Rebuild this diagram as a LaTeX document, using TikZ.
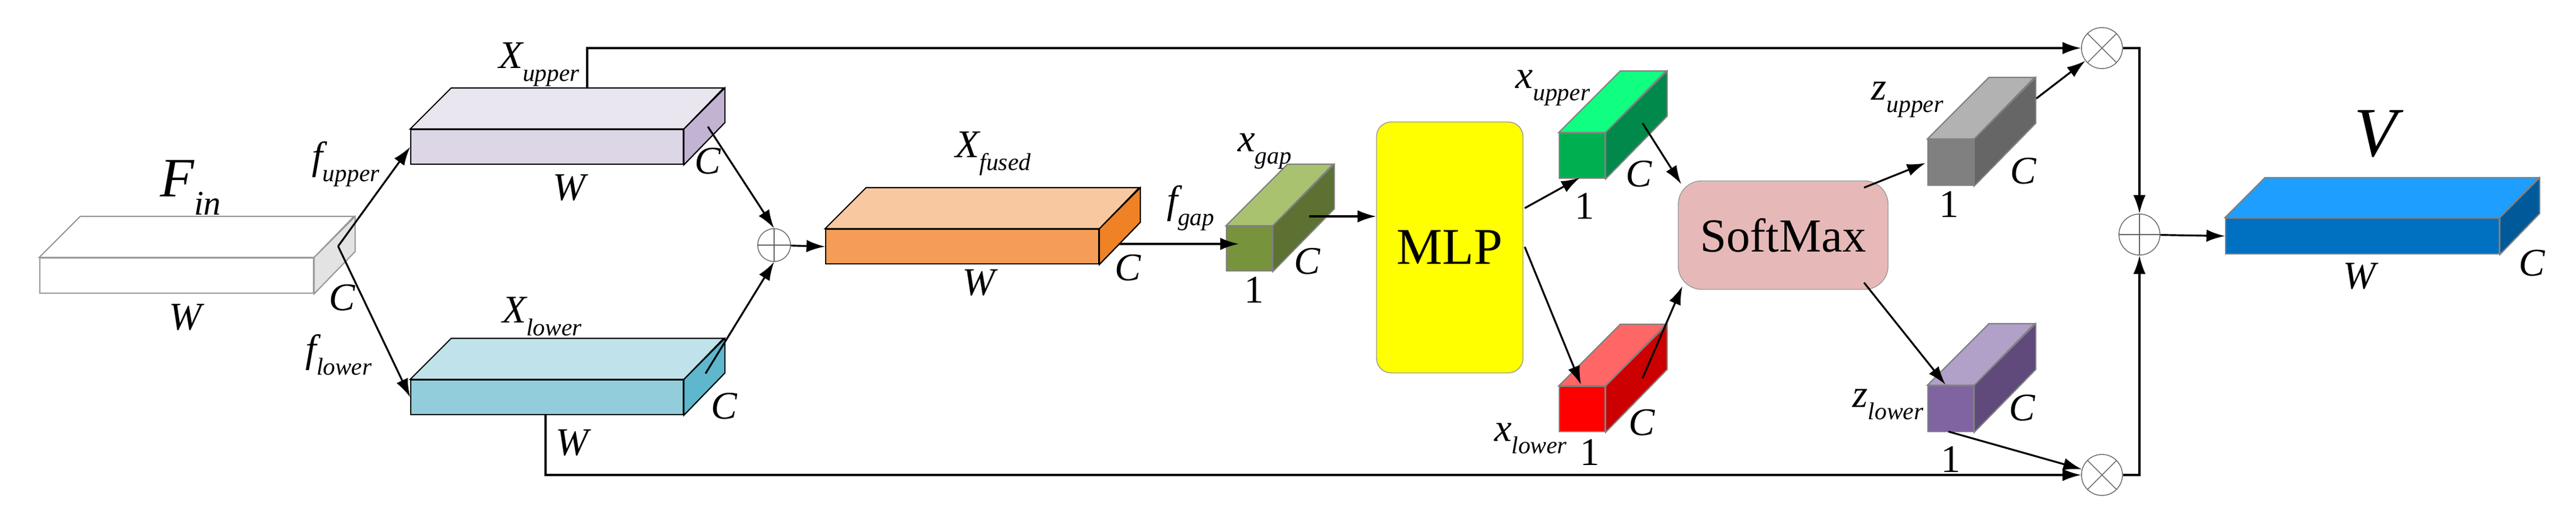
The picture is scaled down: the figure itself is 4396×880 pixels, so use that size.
\documentclass[tikz,border=0pt]{standalone}
\usepackage{fontspec}
\setmainfont{Liberation Serif}
\usetikzlibrary{arrows.meta}

\definecolor{finF}{HTML}{FFFFFF}\definecolor{finT}{HTML}{FFFFFF}\definecolor{finS}{HTML}{E3E3E3}
\definecolor{xupF}{HTML}{DCD6E6}\definecolor{xupT}{HTML}{EAE6EF}\definecolor{xupS}{HTML}{C3B3D3}
\definecolor{xloF}{HTML}{92CDDC}\definecolor{xloT}{HTML}{C0E2EA}\definecolor{xloS}{HTML}{5EB7CC}
\definecolor{xfuF}{HTML}{F59D56}\definecolor{xfuT}{HTML}{F8C8A0}\definecolor{xfuS}{HTML}{F08226}
\definecolor{gapF}{HTML}{77933C}\definecolor{gapT}{HTML}{A9C26F}\definecolor{gapS}{HTML}{5C7132}
\definecolor{vupF}{HTML}{00B050}\definecolor{vupT}{HTML}{11FF80}\definecolor{vupS}{HTML}{00894A}
\definecolor{vloF}{HTML}{FF0000}\definecolor{vloT}{HTML}{FF6666}\definecolor{vloS}{HTML}{CC0000}
\definecolor{zupF}{HTML}{808080}\definecolor{zupT}{HTML}{B2B2B2}\definecolor{zupS}{HTML}{666666}
\definecolor{zloF}{HTML}{8064A2}\definecolor{zloT}{HTML}{B1A0C7}\definecolor{zloS}{HTML}{604A7B}
\definecolor{outF}{HTML}{0070C0}\definecolor{outT}{HTML}{1E9FFF}\definecolor{outS}{HTML}{005A9A}
\definecolor{mlpc}{HTML}{FFFF00}\definecolor{smc}{HTML}{E6B9B8}

% name, x, y (front top left), w, h, depth, colour prefix, line colour
\newcommand\block[8]{%
  \node[draw=#8, fill=#7F, anchor=north west, inner sep=0, line width=.6pt,
        minimum width=#4*0.01cm, minimum height=#5*0.01cm] (#1) at (#2,#3) {};
  \filldraw[draw=#8, fill=#7T, line width=.6pt] (#1.north west) -- ++(#6,-#6) -- ++(#4,0) -- (#1.north east) -- cycle;
  \filldraw[draw=#8, fill=#7S, line width=.6pt] (#1.north east) -- ++(#6,-#6) -- ++(0,#5) -- (#1.south east) -- cycle;}
\newcommand\sym[2]{\textit{#1}\raisebox{-.32em}{\scalebox{.62}{\textit{#2}}}}

\begin{document}
\begin{tikzpicture}[x=0.01cm, y=-0.01cm,
  arr/.style={-{Latex[length=9pt,width=6pt]}, line width=.9pt},
  txt/.style={font=\fontsize{19}{19}\selectfont\itshape, inner sep=0},
  num/.style={font=\fontsize{19}{19}\selectfont, inner sep=0},
  sum/.style={circle, draw=black!60, minimum size=#1*0.01cm, inner sep=0,
    path picture={\draw[black!60] (path picture bounding box.west) -- (path picture bounding box.east)
      (path picture bounding box.north) -- (path picture bounding box.south);}},
  prod/.style={circle, draw=black!60, minimum size=70*0.01cm, inner sep=0, fill=white,
    path picture={\draw[black!60] (path picture bounding box.north west) -- (path picture bounding box.south east)
      (path picture bounding box.north east) -- (path picture bounding box.south west);}}]
\useasboundingbox (0,0) rectangle (4396,880);

% feature blocks
\block{fin}{67}{439}{467}{60}{70}{fin}{black!40}
\block{xup}{700}{220}{465}{59}{70}{xup}{black}
\block{xlo}{700}{647}{465}{59}{70}{xlo}{black}
\block{xfu}{1408}{390}{466}{59}{70}{xfu}{black}
\block{gap}{2092}{385}{78}{76}{105}{gap}{black!50}
\block{vup}{2660}{226}{78}{77}{105}{vup}{black!50}
\block{vlo}{2660}{658}{78}{77}{105}{vlo}{black!50}
\block{zup}{3289}{237}{78}{78}{105}{zup}{black!50}
\block{zlo}{3289}{657}{78}{78}{105}{zlo}{black!50}
\block{out}{3797}{371}{467}{61}{68}{out}{black!50}

\node[draw=black!40, fill=mlpc, rounded corners=25*0.01cm, minimum width=250*0.01cm,
  minimum height=428*0.01cm, font=\fontsize{25}{25}\selectfont] (mlp) at (2474,422) {MLP};
\node[draw=black!40, fill=smc, rounded corners=40*0.01cm, minimum width=358*0.01cm,
  minimum height=185*0.01cm, font=\fontsize{23}{23}\selectfont] (sm) at (3043,401) {SoftMax};

\node[sum=56] (add1) at (1321,418) {};
\node[sum=70] (add2) at (3651,400) {};
\node[prod] (mul1) at (3587,82) {};
\node[prod] (mul2) at (3587,810) {};

% labels
\node[txt, font=\fontsize{27}{27}\selectfont\itshape] at (325,320) {\sym{F}{in}};
\node[txt] at (316,541) {W};
\node[txt] at (584,508) {C};
\node[txt] at (590,280) {\sym{f}{upper}};
\node[txt] at (578,605) {\sym{f}{lower}};
\node[txt] at (920,110) {\sym{X}{upper}};
\node[txt] at (971,320) {W};
\node[txt] at (1208,275) {C};
\node[txt] at (925,540) {\sym{X}{lower}};
\node[txt] at (976,755) {W};
\node[txt] at (1236,693) {C};
\node[txt] at (1695,262) {\sym{X}{fused}};
\node[txt] at (1670,482) {W};
\node[txt] at (1925,457) {C};
\node[txt] at (2032,355) {\sym{f}{gap}};
\node[txt] at (2158,258) {\sym{x}{gap}};
\node[txt] at (2231,446) {C};
\node[num] at (2140,494) {1};
\node[txt] at (2650,150) {\sym{x}{upper}};
\node[txt] at (2797,297) {C};
\node[num] at (2704,351) {1};
\node[txt] at (2612,748) {\sym{x}{lower}};
\node[txt] at (2802,721) {C};
\node[num] at (2713,771) {1};
\node[txt] at (3255,170) {\sym{z}{upper}};
\node[txt] at (3453,292) {C};
\node[num] at (3326,348) {1};
\node[txt] at (3222,690) {\sym{z}{lower}};
\node[txt] at (3451,696) {C};
\node[num] at (3329,783) {1};
\node[txt, font=\fontsize{34}{34}\selectfont\itshape] at (4054,228) {V};
\node[txt] at (4026,471) {W};
\node[txt] at (4321,449) {C};

% connection points
\coordinate (split) at (577,420);
\coordinate (xup-o) at (1208,216);
\coordinate (xlo-o) at (1204,637);
\coordinate (xup-tap) at (1002,150);
\coordinate (xlo-tap) at (931,706);
\coordinate (xfu-o) at (1910,416);
\coordinate (gap-i) at (2114,416);
\coordinate (gap-o) at (2234,369);
\coordinate (mlp-a) at (2602,355);
\coordinate (mlp-b) at (2602,421);
\coordinate (vup-i) at (2696,303);
\coordinate (vlo-i) at (2698,656);
\coordinate (vup-o) at (2803,210);
\coordinate (vlo-o) at (2803,645);
\coordinate (sm-a) at (2869,314);
\coordinate (sm-b) at (2871,488);
\coordinate (sm-c) at (3181,320);
\coordinate (sm-d) at (3181,482);
\coordinate (zup-i) at (3286,278);
\coordinate (zlo-i) at (3320,656);
\coordinate (zup-o) at (3475,168);
\coordinate (zlo-o) at (3325,736);

% connectors
\draw[arr] (split) -- (xup.west);
\draw[arr] (split) -- (xlo.west);
\draw[arr] (xup-o) -- (add1.north);
\draw[arr] (xlo-o) -- (add1.south);
\draw[arr] (add1) -- (xfu.west);
\draw[arr] (xfu-o) -- (gap-i);
\draw[arr] (gap-o) -- (gap-o -| mlp.west);
\draw[arr] (mlp-a) -- (vup-i);
\draw[arr] (mlp-b) -- (vlo-i);
\draw[arr] (vup-o) -- (sm-a);
\draw[arr] (vlo-o) -- (sm-b);
\draw[arr] (sm-c) -- (zup-i);
\draw[arr] (sm-d) -- (zlo-i);
\draw[arr] (zup-o) -- (mul1);
\draw[arr] (zlo-o) -- (mul2);
\draw[arr] (xup-tap) |- (mul1);
\draw[arr] (xlo-tap) |- (mul2);
\draw[arr] (mul1.east) -| (add2.north);
\draw[arr] (mul2.east) -| (add2.south);
\draw[arr] (add2) -- (out.west);
\end{tikzpicture}
\end{document}
